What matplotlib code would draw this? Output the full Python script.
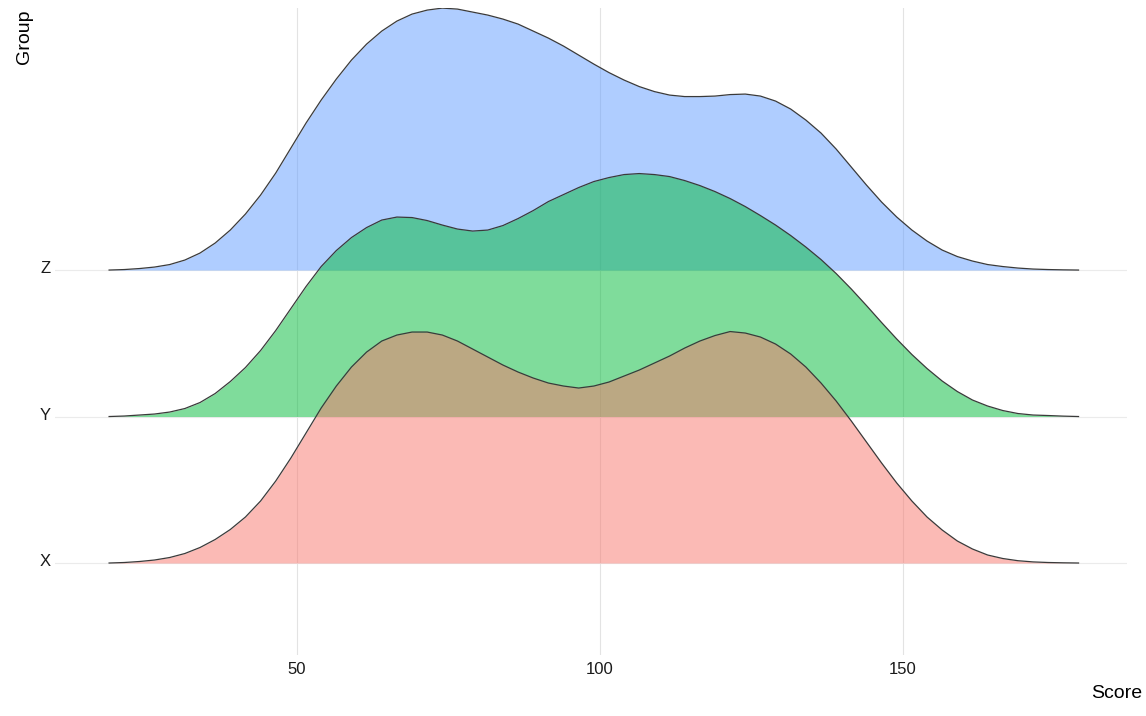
import matplotlib
matplotlib.use("Agg")
import matplotlib.pyplot as plt
import matplotlib.transforms as mtransforms
import numpy as np

plt.rcParams["font.family"] = ["Liberation Sans", "DejaVu Sans"]

# Scores the ridges were read at
scores = [19, 21.5, 24, 26.5, 29, 31.5, 34, 36.5, 39, 41.5, 44, 46.5, 49, 51.5, 54, 56.5,
          59, 61.5, 64, 66.5, 69, 71.5, 74, 76.5, 79, 81.5, 84, 86.5, 89, 91.5, 94, 96.5,
          99, 101.5, 104, 106.5, 109, 111.5, 114, 116.5, 119, 121.5, 124, 126.5, 129, 131.5,
          134, 136.5, 139, 141.5, 144, 146.5, 149, 151.5, 154, 156.5, 159, 161.5, 164, 166.5,
          169, 171.5, 174, 176.5, 179]

# Relative density for each group (arbitrary units)
dens_x = [0, 0.5, 1.5, 3, 5.5, 9.5, 15.5, 23.5, 33.5, 46, 62, 82, 105, 130, 155, 177,
          196, 211, 222, 228, 231, 231, 228, 222, 214, 206, 198, 191, 185, 180, 177, 175,
          177, 181, 187, 193, 200, 207, 215, 222, 227.5, 231.5, 230, 226, 219, 209,
          196, 180, 162, 142, 121, 100, 80, 62, 46, 33, 22, 14, 8, 4.5,
          2.3, 1.1, 0.5, 0.2, 0]
dens_y = [0, 0.5, 1.5, 2.5, 4.5, 8, 14, 23, 35, 49, 66, 86, 108, 130, 150, 166,
          179, 189, 196.5, 199.5, 199, 196, 191.5, 187.5, 185.5, 186.5, 191, 198, 206, 215, 222, 229,
          235, 239, 242, 243, 242, 240, 236, 231, 225, 218, 210, 201, 191.5, 181,
          169.5, 157, 143, 127.5, 111, 94, 77.5, 62, 48, 35.5, 25, 16.5, 10.5, 6,
          3, 1.5, 1, 0.4, 0]
dens_z = [0, 0.5, 1.5, 3, 5.5, 10, 17, 27, 40, 56, 75, 97, 122, 147, 170, 191,
          210, 226, 239, 249, 256, 260, 262, 261, 258, 255, 251, 246, 239, 232, 224, 215,
          206, 197.5, 190, 183.5, 178.5, 175, 173.5, 173.5, 174, 175.5, 176, 174, 169, 161,
          150, 137, 121, 103, 85, 68, 53, 40, 29, 20, 13.5, 9, 5.5, 3.5,
          2, 1, 0.5, 0.2, 0]

groups = ["X", "Y", "Z"]
colors = {"X": "#F8766D", "Y": "#00BA38", "Z": "#619CFF"}
dens = {"X": dens_x, "Y": dens_y, "Z": dens_z}
x_ticks = [50, 100, 150]

scale = 1 / 146.5  # ridge height per density unit, relative to group spacing

fig = plt.figure(figsize=(11.46, 7.16), dpi=100)
ax = fig.add_axes([55 / 1146, 61 / 716, 1072 / 1146, 647 / 716])

ax.set_xlim(10.07, 187.0)
ax.set_ylim(0.372, 4.789)

# grid
for xt in x_ticks:
    ax.axvline(xt, color="#e3e3e3", lw=0.8, zorder=0)
for i, g in enumerate(groups):
    ax.axhline(i + 1, color="#ebebeb", lw=0.8, zorder=0)

# draw top ridge first so lower ones overlay it
for i, g in reversed(list(enumerate(groups))):
    base = i + 1
    top = base + np.array(dens[g]) * scale
    z = 10 - i
    ax.fill_between(scores, base, top, color=colors[g], alpha=0.5, lw=0, zorder=z)
    ax.plot(scores, top, color="#3a3a3a", lw=0.9, zorder=z, solid_joinstyle="round")

for s in ax.spines.values():
    s.set_visible(False)

ax.set_xticks(x_ticks)
ax.set_xticklabels([str(t) for t in x_ticks])
ax.set_yticks([1, 2, 3])
ax.set_yticklabels(groups)
ax.tick_params(axis="both", length=0, labelsize=12, colors="#1a1a1a")
ax.tick_params(axis="x", pad=5)
ax.tick_params(axis="y", pad=3)

offset = mtransforms.ScaledTranslation(0, 3 / 100, fig.dpi_scale_trans)
for lab in ax.get_yticklabels():
    lab.set_transform(lab.get_transform() + offset)

fig.text(25 / 1146, 1 - 9 / 716, "Group", rotation=90, ha="center", va="top",
         fontsize=14, color="black")
fig.text(1142 / 1146, 1 - 693 / 716, "Score", ha="right", va="center",
         fontsize=14, color="black")

fig.savefig("out.png", dpi=100, facecolor="white")
